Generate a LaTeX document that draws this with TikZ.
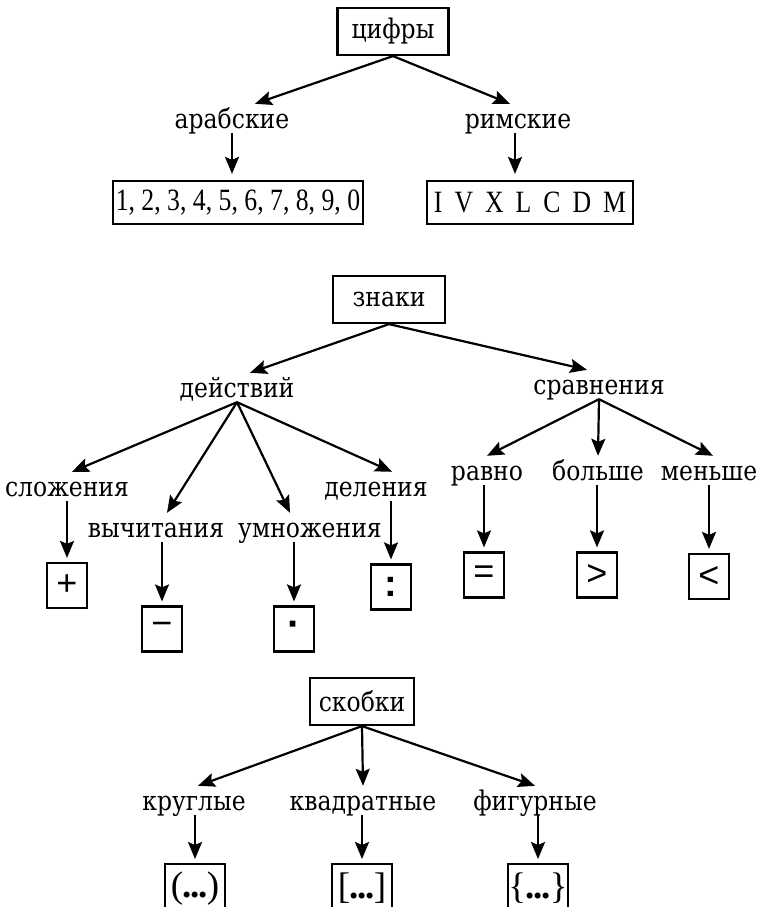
\documentclass[tikz,border=0pt]{standalone}
\usepackage{fontspec}
\setmainfont{DejaVu Serif}[FakeStretch=0.87]
\newfontfamily\numfont{Liberation Serif}[FakeStretch=0.83]
\newfontfamily\symfont{Liberation Sans}
\newfontfamily\brfont{Liberation Serif}
\usetikzlibrary{arrows.meta}
\newcommand\rmgap{\hspace{12pt}}
\begin{document}
\begin{tikzpicture}[x=1pt,y=-1pt,
  box/.style={draw, line width=2.2pt, inner sep=0pt, font=\fontsize{27}{27}\selectfont},
  lab/.style={inner sep=0pt, anchor=base, text height=24pt, text depth=5pt, font=\fontsize{27}{27}\selectfont},
  arr/.style={line width=2.2pt, -{Stealth[length=17pt,width=14pt,inset=3pt]}},
  down/.style={arr, shorten >=4pt},
  sbox/.style={box, minimum width=40pt, minimum height=45pt, font=\symfont\fontsize{36}{36}\selectfont},
  bbox/.style={box, minimum width=60pt, minimum height=48pt, anchor=north, font=\brfont\fontsize{37}{37}\selectfont}]
\clip (0,0) rectangle (760,907);
\fill[white] (0,0) rectangle (760,907);
% ---- цифры
\node[box, minimum width=111pt, minimum height=47pt] (tsif) at (393,31.5) {цифры};
\node[lab] (arab) at (232,128) {арабские};
\node[lab] (rim) at (518,128) {римские};
\node[box, minimum width=250pt, minimum height=43pt, font=\numfont\fontsize{31}{31}\selectfont] (dig) at (238,202.5) {1, 2, 3, 4, 5, 6, 7, 8, 9, 0};
\node[box, minimum width=206pt, minimum height=43pt, font=\numfont\fontsize{31}{31}\selectfont] (rom) at (530,202.5) {I\rmgap V\rmgap X\rmgap L\rmgap C\rmgap D\rmgap M};
\draw[arr] (tsif.south) -- ([xshift=23pt]arab.north);
\draw[arr] (tsif.south) -- ([xshift=-8pt]rim.north);
\draw[arr, shorten >=6pt] (arab.south) -- (arab.south |- dig.north);
\draw[arr, shorten >=6pt] ([xshift=-3pt]rim.south) -- ([xshift=-3pt]rim.south |- rom.north);
% ---- знаки
\node[box, minimum width=112pt, minimum height=47pt] (zn) at (389,299.5) {знаки};
\node[lab] (deis) at (237,397) {действий};
\node[lab] (srav) at (599,394) {сравнения};
\draw[arr] (zn.south) -- ([xshift=13pt]deis.north);
\draw[arr] (zn.south) -- ([xshift=-12pt]srav.north);
\node[lab] (slo) at (67,496) {сложения};
\node[lab] (vyc) at (156,537) {вычитания};
\node[lab] (umn) at (310,537) {умножения};
\node[lab] (del) at (376,496) {деления};
\draw[arr] (deis.south) -- ([xshift=5pt]slo.north);
\draw[arr] (deis.south) -- ([xshift=11pt]vyc.north);
\draw[arr] (deis.south) -- ([xshift=-20pt]umn.north);
\draw[arr] (deis.south) -- ([xshift=16pt]del.north);
\node[sbox] (plus) at (67,585.5) {+};
\node[sbox] (minus) at (162,629) {−};
\node[sbox, font=\symfont\bfseries\fontsize{40}{40}\selectfont] (dot) at (294,629) {·};
\node[sbox, font=\symfont\bfseries\fontsize{38}{38}\selectfont] (colon) at (391,587) {:};
\draw[down] (slo.south -| plus.north) -- (plus.north);
\draw[down] (vyc.south -| minus.north) -- (minus.north);
\draw[down] (umn.south -| dot.north) -- (dot.north);
\draw[down] (del.south -| colon.north) -- (colon.north);
\node[lab] (rav) at (487,480) {равно};
\node[lab] (bol) at (598,480) {больше};
\node[lab] (men) at (709,480) {меньше};
\draw[arr] (srav.south) -- (rav.north);
\draw[arr] (srav.south) -- (bol.north);
\draw[arr] (srav.south) -- ([xshift=4pt]men.north);
\node[sbox] (eq) at (484,575) {=};
\node[sbox] (gt) at (597,575) {>};
\node[sbox] (lt) at (709,576.5) {<};
\draw[down] (rav.south -| eq.north) -- (eq.north);
\draw[down] (bol.south -| gt.north) -- (gt.north);
\draw[down] (men.south -| lt.north) -- (lt.north);
% ---- скобки
\node[box, minimum width=104pt, minimum height=47pt] (sk) at (362,701.5) {скобки};
\node[lab] (kru) at (194,810) {круглые};
\node[lab] (kva) at (363,810) {квадратные};
\node[lab] (fig) at (535,810) {фигурные};
\draw[arr] (sk.south) -- ([xshift=4pt]kru.north);
\draw[arr] (sk.south) -- (kva.north);
\draw[arr] (sk.south) -- (fig.north);
\node[bbox] (rb) at (195,863) {(\kern-1pt\textbf{.\kern-1pt.\kern-1pt.}\kern-1pt)};
\node[bbox] (sb) at (362,863) {[\kern-1pt\textbf{.\kern-1pt.\kern-1pt.}\kern-1pt]};
\node[bbox] (cb) at (538,863) {\{\kern-1pt\textbf{.\kern-1pt.\kern-1pt.}\kern-1pt\}};
\draw[down] (kru.south -| rb.north) -- (rb.north);
\draw[down] (kva.south -| sb.north) -- (sb.north);
\draw[down] (fig.south -| cb.north) -- (cb.north);
\end{tikzpicture}
\end{document}
